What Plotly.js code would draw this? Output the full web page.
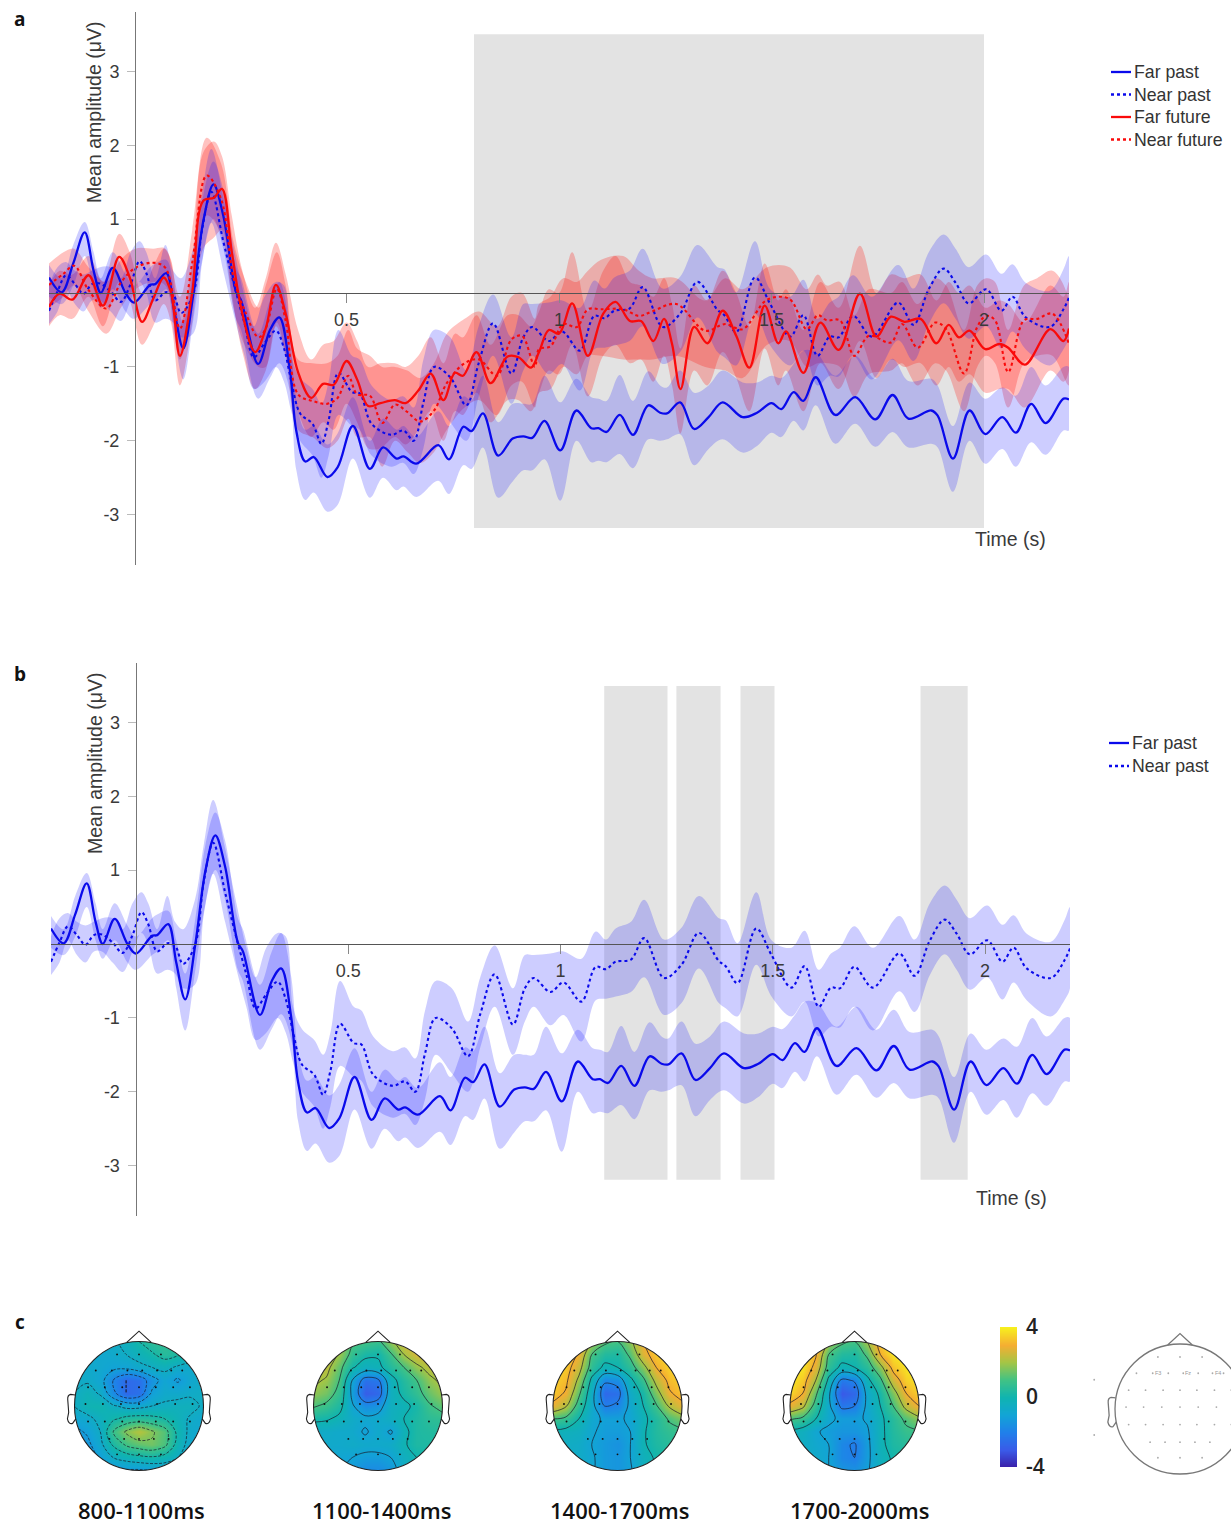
<!DOCTYPE html>
<html><head><meta charset="utf-8">
<script src="https://cdn.plot.ly/plotly-3.0.1.min.js"></script>
<style>html,body{margin:0;padding:0;background:#fff;overflow:hidden}</style>
</head><body><div id="chart" style="width:1231px;height:1524px"></div>
<script>
const tFarPast=[-0.2,-0.17,-0.143,-0.116,-0.095,-0.078,-0.05,-0.02,0,0.038,
0.05,0.076,0.095,0.116,0.14,0.164,0.187,0.21,0.24,0.252,
0.292,0.32,0.342,0.366,0.382,0.403,0.423,0.455,0.479,0.515,
0.555,0.586,0.618,0.634,0.664,0.716,0.741,0.775,0.794,0.821,
0.857,0.891,0.916,0.937,0.966,1.003,1.041,1.076,1.093,1.112,
1.143,1.174,1.21,1.238,1.254,1.285,1.318,1.352,1.385,1.432,
1.466,1.5,1.523,1.552,1.575,1.604,1.65,1.697,1.744,1.785,
1.822,1.876,1.891,1.927,1.966,2.003,2.043,2.075,2.111,2.145,
2.187,2.2];
const farPastMean=[.21,.01,.4,.82,.3,0,.34,0,-.13,.11,
.12,.27,-.25,-.75,0,1.0,1.47,1.05,.02,-.1,
-.96,-.5,-.33,-1.0,-1.87,-2.28,-2.22,-2.49,-2.36,-1.8,
-2.38,-2.09,-2.24,-2.21,-2.31,-2.06,-2.25,-1.81,-1.87,-1.63,
-2.2,-1.97,-1.94,-1.96,-1.73,-2.13,-1.59,-1.83,-1.83,-1.88,
-1.65,-1.92,-1.52,-1.62,-1.63,-1.48,-1.84,-1.68,-1.48,-1.68,
-1.62,-1.49,-1.57,-1.34,-1.46,-1.14,-1.65,-1.41,-1.71,-1.38,
-1.70,-1.59,-1.66,-2.24,-1.59,-1.91,-1.68,-1.89,-1.50,-1.76,
-1.43,-1.44];
const farPastUpper=[.38,.2,.65,.96,.55,.2,.55,.25,.1,.35,
.4,.45,.05,-.4,.35,1.35,1.78,1.4,.35,.2,
-.55,-.1,.15,-.45,-1.45,-1.85,-1.8,-2.05,-1.9,-1.41,
-2.0,-1.7,-1.85,-1.8,-1.95,-1.6,-1.8,-1.4,-1.45,-1.12,
-1.75,-1.5,-1.5,-1.5,-1.12,-1.48,-1.16,-1.41,-1.43,-1.46,
-1.11,-1.46,-1.06,-1.25,-1.28,-1.05,-1.35,-1.25,-1.05,-1.21,
-1.21,-1.12,-1.15,-.96,-.78,-.8,-1.12,-.85,-1.16,-.89,
-1.19,-1.16,-1.25,-1.8,-1.21,-1.43,-1.28,-1.39,-1.0,-1.25,
-1.0,-1.0];
const farPastLower=[-.05,-.15,.1,.5,.05,-.2,.05,-.25,-.35,-.15,
-.1,.05,-.6,-1.17,-.35,.55,1.0,.6,-.35,-.5,
-1.43,-1.15,-.95,-1.3,-2.4,-2.8,-2.7,-2.96,-2.87,-2.24,
-2.77,-2.5,-2.67,-2.62,-2.76,-2.54,-2.72,-2.33,-2.38,-2.09,
-2.77,-2.55,-2.4,-2.4,-2.25,-2.81,-2.0,-2.29,-2.27,-2.29,
-2.18,-2.37,-1.98,-2.0,-1.98,-1.91,-2.33,-2.11,-1.98,-2.16,
-2.07,-1.89,-1.95,-1.73,-1.86,-1.52,-2.04,-1.77,-2.08,-1.88,
-2.09,-2.04,-2.09,-2.69,-2.0,-2.31,-2.11,-2.35,-2.02,-2.19,
-1.86,-1.86];

const tNearPast=[-.2,-.18,-.16,-.139,-.119,-.099,-.08,-.055,-.031,-.008,
.013,.029,.05,.074,.092,.111,.139,.16,.182,.21,
.235,.26,.282,.307,.334,.353,.37,.391,.42,.441,
.458,.481,.513,.531,.559,.605,.634,.658,.681,.706,
.744,.782,.811,.845,.888,.916,.937,.976,1.007,1.049,
1.083,1.107,1.13,1.166,1.197,1.244,1.285,1.326,1.373,1.389,
1.417,1.461,1.497,1.544,1.575,1.608,1.637,1.658,1.692,1.736,
1.798,1.834,1.87,1.905,1.933,1.964,2.005,2.041,2.067,2.098,
2.155,2.187,2.2];
const nearPastMean=[-.24,.02,.24,.12,-.01,.12,.13,.02,-.12,.12,
.43,.27,-.1,.01,-.02,-.27,-.02,.85,1.37,.7,
.12,-.41,-.87,-.68,-.51,-.75,-1.19,-1.63,-1.77,-2.04,
-1.72,-1.08,-1.34,-1.36,-1.77,-1.92,-1.86,-2.0,-1.48,-1.0,
-1.14,-1.52,-.95,-.41,-1.09,-.6,-.46,-.65,-.52,-.78,
-.31,-.34,-.24,-.21,.08,-.46,-.28,.15,-.23,-.3,
-.53,.21,-.15,-.59,-.3,-.85,-.59,-.6,-.31,-.59,
-.13,-.43,.05,.33,.14,-.14,.05,-.24,-.05,-.33,
-.46,-.22,-.06];
const nearPastUpper=[.1,.35,.42,.3,.25,.3,.35,.35,.2,.55,
.7,.55,.2,.65,.3,.2,.6,1.35,1.95,1.3,
.6,-.05,-.45,-.05,.15,.1,-.85,-1.15,-1.3,-1.5,
-1.2,-.5,-.85,-.9,-1.25,-1.45,-1.4,-1.55,-.9,-.5,
-.6,-1.05,-.45,-.02,-.6,-.15,-.15,-.13,-.1,-.2,
.17,.06,.21,.3,.6,.06,.22,.65,.35,.32,
.01,.7,.05,-.05,.18,-.35,-.13,-.05,.24,-.05,
.38,.06,.55,.79,.6,.35,.52,.26,.39,.14,
.03,.32,.5];
const nearPastLower=[-.42,-.25,.05,-.15,-.25,-.1,-.1,-.25,-.38,-.1,
.15,0,-.4,-.35,-.4,-.6,-.55,.4,.95,.3,
-.3,-.85,-1.3,-1.2,-1.0,-1.2,-1.6,-2.0,-2.2,-2.5,
-2.2,-1.65,-1.8,-1.85,-2.2,-2.35,-2.3,-2.45,-2.1,-1.5,
-1.75,-2.0,-1.4,-.85,-1.5,-1.05,-.85,-1.1,-.96,-1.32,
-.76,-.74,-.71,-.65,-.45,-.96,-.8,-.33,-.8,-.87,
-.98,-.28,-.71,-.98,-.78,-1.25,-1.12,-1.13,-.85,-1.17,
-.64,-.92,-.42,-.14,-.35,-.62,-.45,-.75,-.52,-.76,
-.98,-.76,-.6];

const tFarFuture=[-.2,-.175,-.145,-.107,-.073,-.035,-.01,.019,.045,.07,
.087,.108,.137,.163,.188,.207,.23,.255,.285,.31,
.334,.357,.386,.417,.445,.47,.5,.525,.551,.58,
.614,.639,.669,.698,.728,.755,.774,.806,.839,.879,
.905,.934,.953,.976,1.0,1.031,1.068,1.104,1.133,1.167,
1.193,1.222,1.247,1.266,1.286,1.318,1.349,1.385,1.417,1.448,
1.484,1.516,1.534,1.575,1.615,1.658,1.708,1.747,1.781,1.813,
1.851,1.888,1.917,1.941,1.966,2.003,2.036,2.057,2.096,2.156,
2.187,2.2];
const farFutureMean=[-.19,-.01,-.09,.24,-.17,.49,.21,-.39,-.08,.21,
.01,-.85,.01,1.25,1.29,1.41,.56,-.28,-.8,-.48,
.11,-.28,-1.07,-1.42,-1.23,-1.24,-.92,-1.17,-1.53,-1.49,
-1.45,-1.49,-1.32,-1.09,-1.45,-1.08,-1.12,-.8,-1.22,-.86,
-.87,-1.01,-.8,-.5,-.55,-.14,-.85,-.28,-.12,-.38,
-.38,-.65,-.35,-.69,-1.3,-.46,-.68,-.24,-.58,-1.01,
-.17,-.68,-.52,-1.08,-.4,-.77,-.01,-.59,-.32,-.39,
-.35,-.68,-.43,-.6,-.51,-.76,-.69,-.74,-.97,-.49,
-.65,-.48];
const farFutureUpper=[.1,.3,.25,.5,.15,.8,.55,0,.35,.6,
.45,-.45,.4,1.9,2.05,1.85,1.05,.3,-.2,.2,
.68,.25,-.5,-.9,-.7,-.65,-.4,-.65,-1.0,-.95,
-.95,-1.0,-.85,-.6,-.95,-.55,-.6,-.3,-.7,-.3,
-.3,-.45,-.25,.05,0,.55,-.25,.3,.5,.15,
.1,-.05,.2,-.15,-.75,.1,-.1,.3,0,-.45,
.4,-.1,.05,-.5,.15,-.2,.64,0,.25,.2,
.25,-.1,.15,0,.1,-.2,-.1,-.15,-.4,.1,
-.05,.15];
const farFutureLower=[-.45,-.3,-.35,-.05,-.45,.15,-.1,-.7,-.45,-.15,
-.4,-1.25,-.4,.6,.75,.85,0,-.8,-1.3,-1.05,
-.45,-.85,-1.6,-1.95,-1.75,-1.85,-1.5,-1.75,-2.1,-2.1,
-1.95,-2.05,-1.85,-1.6,-2.0,-1.6,-1.65,-1.35,-1.75,-1.45,
-1.45,-1.6,-1.35,-1.05,-1.1,-.7,-1.4,-.85,-.7,-.95,
-.9,-1.2,-.85,-1.25,-1.9,-1.05,-1.25,-.8,-1.15,-1.6,
-.75,-1.25,-1.05,-1.6,-.95,-1.3,-.65,-1.15,-.9,-1.0,
-.95,-1.25,-1.0,-1.2,-1.1,-1.35,-1.3,-1.3,-1.55,-1.05,
-1.2,-1.05];

const tNearFuture=[-.2,-.166,-.141,-.107,-.065,-.031,.003,.045,.074,.108,
.137,.171,.205,.234,.26,.293,.31,.336,.357,.386,
.42,.454,.479,.504,.525,.555,.584,.614,.643,.673,
.706,.736,.778,.812,.854,.888,.913,.943,.953,.98,
1.01,1.042,1.068,1.099,1.151,1.188,1.219,1.276,1.344,1.391,
1.432,1.49,1.542,1.583,1.609,1.63,1.661,1.695,1.729,1.781,
1.807,1.844,1.885,1.911,1.953,1.984,2.005,2.026,2.057,2.094,
2.125,2.161,2.2];
const nearFutureMean=[.11,.26,.37,.04,-.21,.14,.34,.41,.34,-.48,
.41,1.59,1.27,.21,-.23,-.6,-.48,.06,-.38,-1.37,
-1.46,-1.5,-1.42,-1.12,-1.37,-1.39,-1.76,-1.51,-1.61,-1.74,
-1.59,-1.22,-.95,-.9,-1.12,-.63,-.58,-1.0,-.76,-.72,
-.42,-.46,-.22,-.22,-.22,-.31,-.25,-.15,-.51,-.42,
-.49,-.09,-.08,-.49,-.3,-.37,-.37,-.85,-.58,-.67,
-.42,-.74,-.4,-.49,-1.09,-.46,-.31,-.37,-1.07,-.37,
-.35,-.28,-.69];
const nearFutureUpper=[.4,.55,.6,.35,.15,.45,.6,.6,.6,-.05,
.85,2.1,1.75,.7,.2,-.2,.1,.55,.1,-.9,
-.95,-.95,-.85,-.5,-.75,-.85,-1.0,-1.0,-1.05,-1.15,
-.95,-.55,-.35,-.25,-.45,-.05,0,-.35,-.15,-.05,
.2,.15,.3,.45,.5,.3,.2,.2,-.1,.2,
.05,.35,.35,.05,.25,.1,.15,-.3,.05,0,
.15,-.15,.2,.1,-.5,.1,.2,.15,-.5,.1,
.2,.3,-.1];
const nearFutureLower=[-.2,-.05,.1,-.25,-.55,-.2,.05,.15,.1,-.9,
0,1.05,.8,-.2,-.7,-1.0,-1.0,-.4,-.85,-1.85,
-1.95,-2.1,-2.0,-1.7,-1.95,-1.95,-2.35,-2.0,-2.15,-2.3,
-2.15,-1.85,-1.55,-1.45,-1.65,-1.25,-1.2,-1.55,-1.35,-1.3,
-1.0,-1.1,-.85,-.85,-.9,-.9,-.9,-.85,-1.0,-1.05,
-1.15,-.7,-.65,-1.0,-.95,-.95,-1.0,-1.4,-1.1,-1.05,
-.95,-1.25,-.95,-1.05,-1.6,-1.0,-.85,-.95,-1.55,-.95,
-.85,-.85,-1.25];

const xTickVals=[0.5,1,1.5,2];
const xTickText=['0.5','1','1.5','2'];
const yTickVals=[-3,-2,-1,1,2,3];
const yTickText=['-3','-2','-1','1','2','3'];
const clusterA=[[0.8,2.0]];
const clusterB=[[1.103,1.252],[1.273,1.377],[1.424,1.504],[1.848,1.959]];
const legendNames=['Far past','Near past','Far future','Near future'];

const gridAxis=[-1,-.8,-.6,-.4,-.2,0,.2,.4,.6,.8,1];
const gridRows=[1,.8,.6,.4,.2,0,-.2,-.4,-.6,-.8,-1];
const topo800=[
[-.8,-.8,-.8,-.6,-.3,.2,.6,.7,.5,.2,0],
[-.8,-.8,-.8,-.7,-.5,-.2,.1,.5,.3,-.1,-.2],
[-.7,-.7,-.8,-1.0,-1.0,-.7,-.5,-.3,-.6,-.7,-.5],
[-.6,-.6,-.9,-1.9,-2.6,-2.4,-1.5,-.9,-1.3,-.8,-.6],
[-.5,-.2,-.6,-1.7,-2.6,-2.4,-1.1,-.7,-.7,-.6,-.5],
[-.5,-.1,0,-.4,-.7,-.7,-.5,-.4,-.3,-.3,-.6],
[-.9,-.7,-.3,.1,.4,.5,.4,.2,-.2,-.6,-.8],
[-1.4,-1.1,-.5,.9,1.7,2.2,1.7,1.2,0,-.7,-.9],
[-1.7,-1.4,-.7,.3,1.0,1.3,1.5,1.1,-.1,-.8,-1],
[-1.8,-1.6,-1.1,-.5,-.2,0,.1,-.1,-.5,-1,-1],
[-1.8,-1.7,-1.5,-1.4,-1.3,-1.3,-1.2,-1.1,-1,-1,-1]];
const topo1100=[
[2.4,2.4,2,1.2,1,.8,1.8,2.6,2.7,2.6,2.4],
[2.5,2.5,1.9,.7,.2,.1,.9,2,2.6,2.6,2.6],
[2.4,2.3,1.3,.1,-.4,-.2,.4,1.0,1.8,2.3,2.4],
[2.2,1.9,1,-1,-2.4,-2.2,-.3,.4,1,1.8,2.2],
[1.8,1.5,.7,-1.2,-2.9,-2.6,-.4,.2,.7,1.4,1.9],
[1.1,.8,.3,-.9,-1.6,-1.4,-.4,-.2,.2,.9,1.3],
[.2,.1,-.2,-.6,-.8,-.7,-.4,0,.3,.6,.7],
[-.6,-.6,-.7,-.7,-1.1,-.7,-1.1,-.2,.3,.4,.4],
[-.8,-.7,-.7,-.6,-.7,-.7,-.6,-.1,.3,.3,.3],
[-.9,-.9,-.9,-1,-1.2,-1.2,-1,-.4,0,.1,.1],
[-1,-1,-1,-1.3,-1.7,-1.7,-1.4,-.6,-.2,0,0]];
const topo1400=[
[3.4,3.4,3.2,2,1.2,1,1.8,3,3.4,3.4,3.4],
[3.6,3.6,2.9,1,.4,.3,1.2,2.7,3.4,3.6,3.6],
[3.6,3.4,2.4,.6,-.2,0,.6,1.7,3,3.5,3.6],
[3.5,3.2,1.8,-.2,-1.8,-1.6,-.2,.8,2.3,3.2,3.5],
[3.4,2.9,1.2,-.6,-2.6,-2.4,-.6,.2,1.6,2.9,3.3],
[2.8,2.1,.6,-.7,-2,-1.8,-.8,0,.9,2.1,2.8],
[1,.8,0,-.8,-1.1,-1.1,-.9,-.2,.4,1.1,1.6],
[-.2,-.3,-.4,-.9,-1.2,-1.2,-1,-.1,.4,.7,.8],
[-.4,-.5,-.6,-1,-1.3,-1.5,-1,-.1,.3,.5,.6],
[-.5,-.5,-.6,-.9,-1.3,-1.4,-1,-.3,.1,.3,.4],
[-.5,-.5,-.6,-.9,-1.3,-1.4,-1.1,-.4,0,.2,.3]];
const topo1700=[
[3.8,3.8,3.6,2,1.2,1,2,3.4,3.9,3.9,3.9],
[4,3.9,3.1,1,.4,.3,1.2,3,3.8,4,4],
[4,3.8,2.7,.6,-.2,0,.5,1.7,3.3,3.8,3.9],
[3.9,3.4,2,-.2,-2.2,-1.9,-.2,.8,2.5,3.5,3.8],
[3.6,3,1.2,-.8,-3,-2.6,-.7,.2,1.6,3,3.5],
[2.8,2.2,.6,-.8,-2.2,-2,-.8,0,1,2.3,3],
[1.1,.8,0,-.8,-1.2,-1.2,-.9,-.2,.5,1.2,1.8],
[-.2,-.4,-.9,-1.2,-1.4,-1.4,-1.1,-.2,.4,.8,.9],
[-.3,-.5,-.8,-1,-1.8,-2.1,-1.2,-.2,.3,.5,.6],
[-.4,-.5,-.7,-1,-1.8,-2,-1.2,-.3,.1,.3,.4],
[-.4,-.5,-.7,-1,-1.4,-1.5,-1.1,-.4,0,.2,.3]];
const topoTitles=['800-1100ms','1100-1400ms','1400-1700ms','1700-2000ms'];
const colorbarValues=[-4,-3,-2,-1,0,1,2,3,4];
const colorbarTicks=[-4,0,4];
const elecX=[-.34,0,.34,-.67,-.42,-.18,.05,.28,.5,.67,-.79,-.53,-.26,0,.26,.53,.79,-.83,-.56,-.28,0,.28,.56,.83,-.79,-.53,-.26,0,.26,.53,.79,-.46,-.23,0,.23,.46,-.34,0,.34];
const elecY=[.8,.8,.8,.55,.55,.55,.55,.55,.55,.55,.29,.29,.29,.29,.29,.29,.29,.03,.03,.03,.03,.03,.03,.03,-.24,-.24,-.24,-.24,-.24,-.24,-.24,-.51,-.51,-.51,-.51,-.51,-.75,-.75,-.75];
const refLabels=['F3','Fz','F4'];
const refLabelX=[-.42,.05,.5];
const refLabelY=[.55,.55,.55];

const W=1231,H=1524;
const fx=p=>p/W, fy=p=>1-p/H;
const blue='rgb(10,10,235)',red='rgb(250,10,10)';
const blueFill='rgba(20,20,255,0.21)',redFill='rgba(255,20,10,0.26)';
const parula=[[0,'#3a1fa8'],[.125,'#3a5ae8'],[.25,'#2080ea'],[.375,'#12a4d6'],[.5,'#10b4b0'],[.625,'#40c285'],[.75,'#a5c545'],[.875,'#f5ae32'],[1,'#f7f01e']];

const traces=[];
function band(t,u,l,color,n){
  traces.push({type:'scatter',mode:'lines',x:t.concat(t.slice().reverse()),y:u.concat(l.slice().reverse()),
    fill:'toself',fillcolor:color,line:{width:0,shape:'spline',smoothing:1},showlegend:false,hoverinfo:'skip',
    xaxis:'x'+n,yaxis:'y'+n});
}
function mean(t,v,name,color,dash,n){
  traces.push({type:'scatter',mode:'lines',x:t,y:v,name:name,showlegend:false,
    line:{color:color,width:dash==='solid'?2.3:2.1,dash:dash,shape:'spline',smoothing:1},
    xaxis:'x'+n,yaxis:'y'+n});
}
// panel a
band(tFarFuture,farFutureUpper,farFutureLower,redFill,'');
band(tNearFuture,nearFutureUpper,nearFutureLower,redFill,'');
band(tFarPast,farPastUpper,farPastLower,blueFill,'');
band(tNearPast,nearPastUpper,nearPastLower,blueFill,'');
mean(tFarPast,farPastMean,legendNames[0],blue,'solid','');
mean(tNearPast,nearPastMean,legendNames[1],blue,'dot','');
mean(tFarFuture,farFutureMean,legendNames[2],red,'solid','');
mean(tNearFuture,nearFutureMean,legendNames[3],red,'dot','');
// panel b
band(tFarPast,farPastUpper,farPastLower,blueFill,'2');
band(tNearPast,nearPastUpper,nearPastLower,blueFill,'2');
mean(tFarPast,farPastMean,legendNames[0],blue,'solid','2');
mean(tNearPast,nearPastMean,legendNames[1],blue,'dot','2');

const font={family:'"Liberation Sans",Arial,sans-serif',size:18,color:'#3a3a3a'};
function erpX(left,right,zeroPx){
  return {domain:[fx(left),fx(right)],range:[-.2,2.2],anchor:'free',position:fy(zeroPx),side:'bottom',
    showgrid:false,zeroline:false,showline:true,linecolor:'#555',linewidth:1.3,
    ticks:'outside',ticklen:9,tickcolor:'#888',tickwidth:1,tickvals:xTickVals,ticktext:xTickText,
    tickfont:font,ticklabelstandoff:1};
}
function erpY(top,bottom,zeroPx,xAnchorPx){
  const u=73.9;
  return {domain:[fy(bottom),fy(top)],range:[(zeroPx-bottom)/u,(zeroPx-top)/u],anchor:'free',position:fx(xAnchorPx),side:'left',
    showgrid:false,zeroline:false,showline:true,linecolor:'#777',linewidth:1.2,
    ticks:'outside',ticklen:8,tickcolor:'#bbb',tickwidth:1,tickvals:yTickVals,ticktext:yTickText,tickfont:font,ticklabelstandoff:4};
}
const layout={width:W,height:H,margin:{l:0,r:0,t:0,b:0,pad:0},paper_bgcolor:'#fff',plot_bgcolor:'rgba(0,0,0,0)',
  font:font,hovermode:false,showlegend:false,
  xaxis:erpX(49,1069,293),yaxis:erpY(12,565,293,135),
  xaxis2:erpX(51,1070,944),yaxis2:erpY(663,1216,944,135.5),
  shapes:[],annotations:[]
};
const gray='rgb(227,227,227)';
clusterA.forEach(c=>layout.shapes.push({type:'rect',xref:'x',yref:'y',x0:c[0],x1:c[1],y0:-3.18,y1:3.5,fillcolor:gray,line:{width:0},layer:'below'}));
clusterB.forEach(c=>layout.shapes.push({type:'rect',xref:'x2',yref:'y2',x0:c[0],x1:c[1],y0:-3.19,y1:3.49,fillcolor:gray,line:{width:0},layer:'below'}));

function note(text,x,y,opts){
  layout.annotations.push(Object.assign({text:text,xref:'paper',yref:'paper',x:fx(x),y:fy(y),showarrow:false,xanchor:'center',yanchor:'middle',borderpad:0,font:{family:font.family,size:19.5,color:'#3a3a3a'}},opts||{}));
}
note('Mean amplitude (μV)',94,112,{textangle:-90});
note('Mean amplitude (μV)',95,764,{textangle:-90});
note('Time (s)',1010.5,539);
note('Time (s)',1011.5,1198);
const boldFont={family:'"Open Sans","Noto Sans",sans-serif',size:19,color:'#111',weight:700};
note('a',20,19,{font:boldFont});
note('b',20,674,{font:boldFont});
note('c',20,1322,{font:boldFont});

// legends
function legendRow(i,lineX0,lineX1,textX,y,color,dash){
  layout.shapes.push({type:'line',xref:'paper',yref:'paper',x0:fx(lineX0),x1:fx(lineX1),y0:fy(y),y1:fy(y),line:{color:color,width:2.3,dash:dash}});
  note(legendNames[i],textX,y,{xanchor:'left',font:{family:font.family,size:17.7,color:'#333'}});
}
[[blue,'solid'],[blue,'dot'],[red,'solid'],[red,'dot']].forEach((s,i)=>legendRow(i,1111,1131,1132.5,72+22.5*i,s[0],s[1]));
[[blue,'solid'],[blue,'dot']].forEach((s,i)=>legendRow(i,1109,1129,1130.5,743+23*i,s[0],s[1]));

// head maps
const K=0.5523;
function circlePath(r){const c=K*r;
  return `M ${-r} 0 C ${-r} ${c} ${-c} ${r} 0 ${r} C ${c} ${r} ${r} ${c} ${r} 0 C ${r} ${-c} ${c} ${-r} 0 ${-r} C ${-c} ${-r} ${-r} ${-c} ${-r} 0 Z`;}
function headAxes(n,cx,cy,r,left,right,top,bottom){
  layout['xaxis'+n]={domain:[fx(left),fx(right)],range:[(left-cx)/r,(right-cx)/r],visible:false,anchor:'y'+n,fixedrange:true};
  layout['yaxis'+n]={domain:[fy(bottom),fy(top)],range:[(cy-bottom)/r,(cy-top)/r],visible:false,anchor:'x'+n,fixedrange:true};
}
function headOutline(n,color,w){
  const xr='x'+n,yr='y'+n,ln={color:color,width:w};
  layout.shapes.push({type:'path',xref:xr,yref:yr,path:'M -.19 .985 L 0 1.16 L .19 .985',line:ln,fillcolor:'rgba(0,0,0,0)'});
  [-1,1].forEach(s=>layout.shapes.push({type:'path',xref:xr,yref:yr,line:ln,fillcolor:'rgba(0,0,0,0)',
    path:`M ${s*.99} .17 L ${s*1.06} .18 Q ${s*1.11} .17 ${s*1.105} .1 L ${s*1.09} -.1 L ${s*1.11} -.2 Q ${s*1.09} -.29 ${s*1.03} -.27 L ${s*.98} -.2`}));
  layout.shapes.push({type:'path',xref:xr,yref:yr,path:circlePath(1),line:ln,fillcolor:'rgba(0,0,0,0)'});
}
const maps=[[topo800,139,1406,.7,'3px,1.5px'],[topo1100,378,1406,1,'solid'],[topo1400,617.5,1406,1,'solid'],[topo1700,854.5,1406,1,'solid']];
maps.forEach((m,i)=>{
  const n=i+3,r=64.5,cx=m[1],cy=m[2];
  headAxes(n,cx,cy,r,cx-1.25*r,cx+1.25*r,cy-1.22*r,cy+1.06*r);
  traces.push({type:'contour',x:gridAxis,y:gridRows,z:m[0],zmin:-4,zmax:4,zauto:false,colorscale:parula,showscale:false,zsmooth:'best',
    autocontour:false,contours:{start:-4,end:4,size:m[3],coloring:'heatmap',showlines:true},
    line:{color:'#1a1a2a',width:.7,dash:m[4],smoothing:1},hoverinfo:'skip',xaxis:'x'+n,yaxis:'y'+n});
  traces.push({type:'scatter',mode:'markers',x:elecX,y:elecY,marker:{size:1.9,color:'#111'},showlegend:false,hoverinfo:'skip',xaxis:'x'+n,yaxis:'y'+n});
  layout.shapes.push({type:'path',xref:'x'+n,yref:'y'+n,layer:'above',fillcolor:'#fff',line:{width:0},
    path:'M -1.03 -1.03 L 1.03 -1.03 L 1.03 1.03 L -1.03 1.03 Z '+circlePath(1)});
  headOutline(n,'#222',1.1);
  note(topoTitles[i],[141,382,619,859][i],1510,{font:{family:'"Open Sans","Noto Sans",sans-serif',size:22,color:'#111',weight:600}});
});
// reference head
const cxR=1180,cyR=1409,rR=65;
headAxes(7,cxR,cyR,rR,1088,1231,1328,1482);
traces.push({type:'scatter',mode:'markers',x:elecX.concat([-1.32,-1.32]),y:elecY.concat([.45,-.4]),marker:{size:1.8,color:'#aaa'},showlegend:false,hoverinfo:'skip',xaxis:'x7',yaxis:'y7'});
headOutline(7,'#777',1.3);
refLabels.forEach((s,i)=>layout.annotations.push({text:s,xref:'x7',yref:'y7',x:refLabelX[i],y:refLabelY[i],showarrow:false,xanchor:'left',font:{family:font.family,size:5.5,color:'#999'}}));
// colour bar
layout.xaxis8={domain:[fx(1000),fx(1017)],range:[0,1],visible:false,anchor:'y8',fixedrange:true};
layout.yaxis8={domain:[fy(1467),fy(1327)],range:[-4,4],anchor:'x8',side:'right',showgrid:false,zeroline:false,showline:false,ticks:'',tickvals:colorbarTicks,ticktext:colorbarTicks.map(String),
  tickfont:{family:'"Open Sans","Noto Sans",sans-serif',size:21,color:'#222',weight:600},ticklabelstandoff:8,fixedrange:true};
traces.push({type:'heatmap',x:[0,1],y:colorbarValues,z:colorbarValues.map(v=>[v,v]),zmin:-4,zmax:4,zauto:false,colorscale:parula,showscale:false,zsmooth:'best',hoverinfo:'skip',xaxis:'x8',yaxis:'y8'});

Plotly.newPlot('chart',traces,layout,{staticPlot:true,displayModeBar:false});
</script></body></html>
